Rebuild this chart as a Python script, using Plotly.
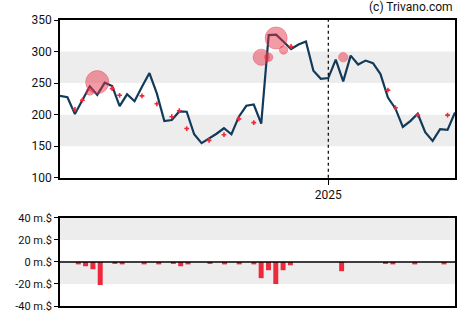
import pandas as pd
import plotly.graph_objects as go

# Weekly closing prices (USD)
start_date = "2024-04-24"
prices = [229.8, 227.6, 200.9, 224.0, 244.9, 231.4, 250.7, 245.5, 213.5, 232.3,
          221.3, 244.4, 265.9, 233.4, 189.9, 191.5, 205.1, 204.7, 169.0, 154.9,
          161.7, 169.8, 178.5, 169.0, 196.8, 214.1, 216.1, 185.8, 326.0, 326.8,
          315.5, 304.0, 311.1, 316.1, 269.5, 256.9, 258.0, 287.2, 252.7, 293.5,
          279.4, 285.7, 281.6, 264.3, 227.1, 209.9, 180.5, 189.9, 201.5, 172.2,
          158.5, 176.9, 175.8, 203.6]

# Insider sales: week index, transaction price (USD), volume (million USD)
trade_week = [2, 3, 4, 5, 7, 8, 11, 13, 15, 16, 17, 20, 22, 24, 26,
              27, 28, 29, 30, 31, 38, 44, 45, 48, 52]
trade_price = [208.3, 222.9, 236.6, 251.5, 241.2, 230.7, 229.8, 217.2, 196.8, 206.2,
               178.0, 159.2, 168.3, 193.4, 187.4, 291.0, 291.0, 321.5, 302.4, 308.0,
               291.0, 238.9, 211.0, 199.3, 199.3]
trade_value = [-2.2, -3.9, -6.6, -21.0, -1.2, -2.2, -2.2, -2.2, -1.2, -3.9,
               -2.2, -1.2, -2.2, -2.2, -2.2, -14.7, -7.5, -20.0, -7.5, -3.0,
               -8.4, -1.2, -2.2, -2.2, -2.2]

price_ticks = [100, 150, 200, 250, 300, 350]
volume_ticks = [-40, -20, 0, 20, 40]
volume_labels = ["-40 m.$", "-20 m.$", "0 m.$", "20 m.$", "40 m.$"]
year_tick = "2025-01-01"
year_label = "2025"

dates = pd.date_range(start_date, periods=len(prices), freq="7D")
trade_dates = [dates[i] for i in trade_week]

RED = "#f0283c"
LINE = "#123a5a"
BAND = "#ededed"
FONT = "Roboto"

fig = go.Figure()

# price line
fig.add_trace(go.Scatter(x=dates, y=prices, mode="lines",
                         line=dict(color=LINE, width=2.2),
                         xaxis="x", yaxis="y", hoverinfo="skip"))

# larger trades as bubbles, small ones as crosses
big = [i for i, v in enumerate(trade_value) if abs(v) >= 5]
small = [i for i, v in enumerate(trade_value) if abs(v) < 5]
fig.add_trace(go.Scatter(
    x=[trade_dates[i] for i in big], y=[trade_price[i] for i in big],
    mode="markers",
    marker=dict(size=[abs(trade_value[i]) * 1.1 for i in big],
                color="rgba(232,48,68,0.68)",
                line=dict(color="rgba(232,48,68,0.8)", width=0.8)),
    xaxis="x", yaxis="y", hoverinfo="skip"))
fig.add_trace(go.Scatter(
    x=[trade_dates[i] for i in small], y=[trade_price[i] for i in small],
    mode="markers",
    marker=dict(symbol="cross", size=4, color=RED, line=dict(width=0)),
    xaxis="x", yaxis="y", hoverinfo="skip"))

# volume bars
week_ms = 7 * 24 * 3600 * 1000
fig.add_trace(go.Bar(x=trade_dates, y=trade_value, marker=dict(color=RED, line=dict(width=0)),
                     width=week_ms * 0.68, xaxis="x2", yaxis="y2", hoverinfo="skip"))

shapes = []
for y0, y1 in [(150, 200), (250, 300)]:
    shapes.append(dict(type="rect", xref="x domain", yref="y", x0=0, x1=1, y0=y0, y1=y1,
                       fillcolor=BAND, line=dict(width=0), layer="below"))
for y0, y1 in [(20, 40), (-20, 0)]:
    shapes.append(dict(type="rect", xref="x2 domain", yref="y2", x0=0, x1=1, y0=y0, y1=y1,
                       fillcolor=BAND, line=dict(width=0), layer="below"))
shapes.append(dict(type="line", xref="x", yref="y domain", x0=year_tick, x1=year_tick,
                   y0=0, y1=1, line=dict(color="#000", width=1.2, dash="dot")))
shapes.append(dict(type="line", xref="x2 domain", yref="y2", x0=0, x1=1, y0=0, y1=0,
                   line=dict(color="#000", width=1.5)))

half_week = pd.Timedelta(days=3.5)
axis_common = dict(showline=True, linecolor="#000", linewidth=1.5, mirror=True,
                   showgrid=False, zeroline=False)

fig.update_layout(
    width=470, height=325,
    margin=dict(l=60, r=15, t=20, b=15),
    paper_bgcolor="white", plot_bgcolor="white",
    showlegend=False,
    font=dict(family=FONT, size=12, color="#111"),
    shapes=shapes,
    xaxis=dict(domain=[0, 1], anchor="y", type="date",
               range=[dates[0], dates[-1]],
               tickvals=[year_tick], ticktext=[year_label],
               ticks="outside", ticklen=5, tickcolor="#000", **axis_common),
    yaxis=dict(domain=[0.4483, 1], anchor="x", range=[100, 350],
               tickvals=price_ticks, ticks="outside", ticklen=4, tickcolor="#000",
               **axis_common),
    xaxis2=dict(domain=[0, 1], anchor="y2", type="date",
                range=[dates[0] - half_week, dates[-1] + half_week],
                showticklabels=False, ticks="", **axis_common),
    yaxis2=dict(domain=[0, 0.308], anchor="x2", range=[-40, 40],
                tickvals=volume_ticks, ticktext=volume_labels,
                ticks="outside", ticklen=4, tickcolor="#000",
                tickfont=dict(size=11), **axis_common),
    annotations=[dict(text="(c) Trivano.com", xref="paper", yref="paper",
                      x=1, y=1, yshift=4, xanchor="right", yanchor="bottom",
                      showarrow=False, font=dict(size=12, color="#111"))],
)

fig.write_html("out.html")
